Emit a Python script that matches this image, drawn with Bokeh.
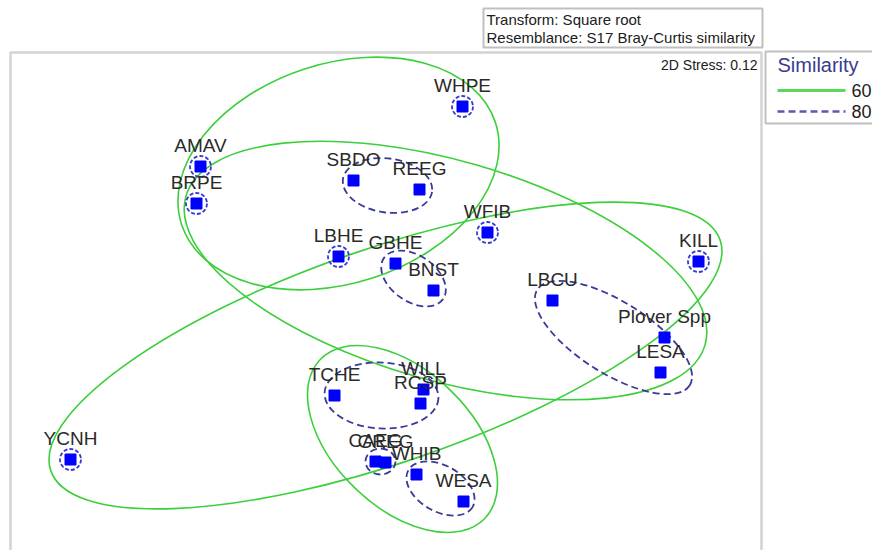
from bokeh.plotting import figure
from bokeh.models import Range1d, BoxAnnotation, Label, ColumnDataSource
from bokeh.embed import file_html
from bokeh.resources import INLINE
from bokeh.core.properties import value

# ---- data (nMDS configuration) ----
species = ["WHPE", "AMAV", "BRPE", "SBDO", "REEG", "WFIB", "LBHE", "GBHE", "BNST",
           "KILL", "LBCU", "Plover Spp", "LESA", "TCHE", "WILL", "RCSP", "CAEG",
           "GREG", "WHIB", "WESA", "YCNH"]
mds_x = [0.38, -0.93, -0.95, -0.165, 0.165, 0.505, -0.24, 0.045, 0.235,
         1.56, 0.83, 1.39, 1.37, -0.26, 0.185, 0.17, -0.055,
         -0.005, 0.15, 0.385, -1.58]
mds_y = [0.97, 0.67, 0.485, 0.60, 0.555, 0.34, 0.22, 0.185, 0.05,
         0.195, 0.0, -0.185, -0.36, -0.475, -0.445, -0.515, -0.805,
         -0.81, -0.87, -1.005, -0.795]
singletons80 = ["WHPE", "AMAV", "BRPE", "WFIB", "LBHE", "KILL", "YCNH"]

# 60% similarity contours (ellipses)
c60_x = [-0.24, 0.295, -0.005, 0.08]
c60_y = [0.635, 0.15, -0.275, -0.6925]
c60_w = [1.65, 2.70, 3.54, 1.144]
c60_h = [1.10, 1.10, 1.07, 0.684]
c60_a = [0.314, -0.279, 0.332, -0.768]

# 80% similarity contours (ellipses)
c80_x = [0.005, 0.135, 1.135, -0.025, 0.27, -0.03]
c80_y = [0.575, 0.11, -0.185, -0.475, -0.94, -0.805]
c80_w = [0.45, 0.36, 0.90, 0.57, 0.37, 0.15]
c80_h = [0.27, 0.23, 0.36, 0.33, 0.23, 0.13]
c80_a = [-0.14, -0.61, -0.56, -0.05, -0.52, 0.0]

stress_text = "2D Stress: 0.12"
info_lines = ["Transform: Square root", "Resemblance: S17 Bray-Curtis similarity"]
legend_title = "Similarity"
legend_levels = ["60", "80"]

GREEN = "#3ccf3c"
NAVY = "#3a3a98"
FONT = "Liberation Sans"

# page pixel -> data helpers (layout only)
def xr(px):
    return (px - 386) / 200.0

def yr(py):
    return (300 - py) / 200.0

p = figure(width=872, height=550, output_backend="svg", toolbar_location=None,
           x_range=Range1d(xr(0), xr(872)), y_range=Range1d(yr(550), yr(0)),
           x_axis_type=None, y_axis_type=None, min_border=0,
           outline_line_color=None, background_fill_color="white")
p.grid.visible = False

# plot frame
p.add_layout(BoxAnnotation(left=xr(10), right=xr(761), top=yr(52), bottom=yr(700),
                           fill_alpha=0, line_color="#6e6e6e", line_width=2.5))
# info box
p.add_layout(BoxAnnotation(left=xr(483), right=xr(762), top=yr(8), bottom=yr(47),
                           fill_alpha=0, line_color="#303030", line_width=2))
for i, t in enumerate(info_lines):
    p.add_layout(Label(x=xr(486), y=yr(19 + 18 * i), text=t, text_font=FONT,
                       text_font_size="15px", text_baseline="middle",
                       text_color="#202020"))
# legend box
p.add_layout(BoxAnnotation(left=xr(765), right=xr(950), top=yr(51), bottom=yr(123),
                           fill_alpha=0, line_color="#303030", line_width=2))
p.add_layout(Label(x=xr(777), y=yr(64), text=legend_title, text_font=FONT,
                   text_font_size="20px", text_baseline="middle", text_color="#3b3b8e"))
p.line([xr(777), xr(845)], [yr(90), yr(90)], line_color="#5ad85a", line_width=3)
p.line([xr(777), xr(845)], [yr(111), yr(111)], line_color="#5a5ab0", line_width=2.5,
       line_dash="7 4")
for i, t in enumerate(legend_levels):
    p.add_layout(Label(x=xr(851), y=yr(90 + 21 * i), text=t, text_font=FONT,
                       text_font_size="18px", text_baseline="middle", text_color="#202020"))

# stress
p.add_layout(Label(x=xr(757), y=yr(64), text=stress_text, text_font=FONT,
                   text_font_size="14px", text_align="right", text_baseline="middle",
                   text_color="#202020"))

# contours
p.ellipse(x=c60_x, y=c60_y, width=c60_w, height=c60_h, angle=c60_a,
          fill_color=None, line_color=GREEN, line_width=1.6)
p.ellipse(x=c80_x, y=c80_y, width=c80_w, height=c80_h, angle=c80_a,
          fill_color=None, line_color=NAVY, line_width=1.8, line_dash="7 4")

src = ColumnDataSource(dict(x=mds_x, y=mds_y, name=species))
sx = [mds_x[species.index(s)] for s in singletons80]
sy = [mds_y[species.index(s)] for s in singletons80]
p.scatter(sx, sy, marker="circle", size=21, fill_color=None, line_color="#3a3ad0",
          line_width=1.8, line_dash="4 2")
p.scatter("x", "y", source=src, marker="square", size=11, fill_color="#0000ff",
          line_color="#0000ff", line_width=1)
p.text("x", "y", text="name", source=src, text_font=value(FONT),
       text_font_size="19px", text_align="center", text_baseline="middle",
       y_offset=-21, text_color="#2a2a2a")

open("out.html", "w").write(file_html(p, INLINE))
